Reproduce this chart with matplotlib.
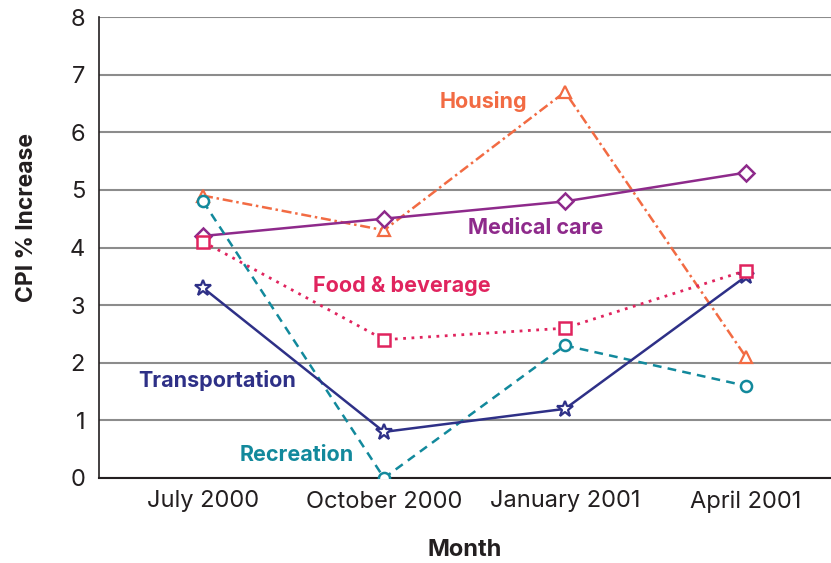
import matplotlib
matplotlib.use("Agg")
import matplotlib.pyplot as plt

months = ["July 2000", "October 2000", "January 2001", "April 2001"]
housing = [4.9, 4.3, 6.7, 2.1]
medical = [4.2, 4.5, 4.8, 5.3]
food = [4.1, 2.4, 2.6, 3.6]
transport = [3.3, 0.8, 1.2, 3.5]
recreation = [4.8, 0.0, 2.3, 1.6]
yticks = [0, 1, 2, 3, 4, 5, 6, 7, 8]

plt.rcParams['font.family'] = ['Inter', 'DejaVu Sans']

fig = plt.figure(figsize=(8.31, 5.63), dpi=100)
ax = fig.add_axes([99/831, 1-478/563, 1-99/831, (478-17)/563])

x = list(range(len(months)))
c_h = "#F26B43"; c_m = "#8E2A8B"; c_f = "#E0245E"; c_t = "#2E3087"; c_r = "#12899C"

ax.plot(x, housing, color=c_h, ls=(0, (4, 1.5, 1, 1.5)), lw=1.8, marker="^", ms=9, mfc="white", mec=c_h, mew=1.6, zorder=3)
ax.plot(x, medical, color=c_m, ls="-", lw=1.8, marker="D", ms=8, mfc="white", mec=c_m, mew=1.8, zorder=3)
ax.plot(x, recreation, color=c_r, ls=(0, (3.5, 2.5)), lw=1.8, marker="o", ms=8, mfc="white", mec=c_r, mew=1.8, zorder=3)
ax.plot(x, transport, color=c_t, ls="-", lw=1.8, marker="*", ms=12, mfc="white", mec=c_t, mew=1.6, zorder=3)
ax.plot(x, food, color=c_f, ls=(0, (1, 2)), lw=2.0, marker="s", ms=8, mfc="white", mec=c_f, mew=1.8, zorder=4)

ax.set_xlim(-0.575, 3.47)
ax.set_ylim(0, 8)
ax.set_yticks(yticks)
ax.set_xticks(x)
ax.set_xticklabels(months)
ax.tick_params(axis="both", length=0, labelsize=17, colors="#231F20", pad=10)
ax.tick_params(axis="x", pad=9)
ax.yaxis.grid(True, color="#8C8C8C", lw=1.5)
ax.set_axisbelow(True)
for s in ["top", "right"]:
    ax.spines[s].set_visible(False)
ax.spines["left"].set_color("#231F20")
ax.spines["bottom"].set_color("#231F20")
ax.spines["left"].set_linewidth(1.2)
ax.spines["bottom"].set_linewidth(1.5)

ax.set_ylabel("CPI % Increase", fontsize=16.5, fontweight="bold", color="#231F20")
ax.yaxis.set_label_coords((38 - 99) / 732, (478 - 218) / 461)
ax.set_xlabel("Month", fontsize=17, fontweight="bold", color="#231F20", labelpad=19)

def px2x(px):
    return (px - 203) / 181.0

lbl = dict(fontsize=15.5, fontweight="bold", ha="left", va="center")
ax.text(px2x(440), 6.54, "Housing", color=c_h, **lbl)
ax.text(px2x(468), 4.34, "Medical care", color=c_m, **lbl)
ax.text(px2x(313), 3.33, "Food & beverage", color=c_f, **lbl)
ax.text(px2x(138), 1.70, "Transportation", color=c_t, **lbl)
ax.text(px2x(240), 0.40, "Recreation", color=c_r, **lbl)

fig.savefig("out.png", dpi=100)
